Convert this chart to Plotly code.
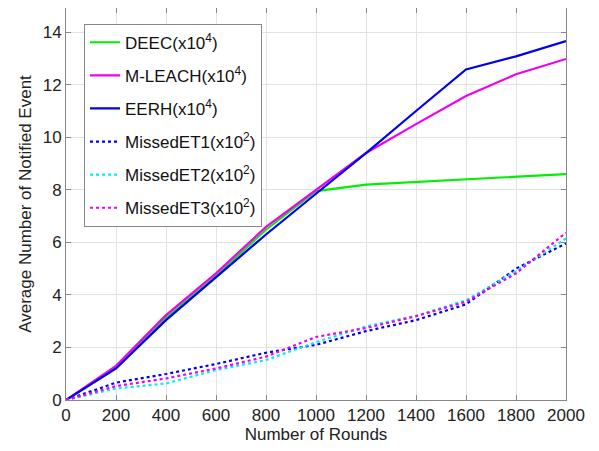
import plotly.graph_objects as go

rounds = [0, 200, 400, 600, 800, 1000, 1200, 1400, 1600, 1800, 2000]
deec = [0, 1.2, 3.13, 4.72, 6.48, 7.95, 8.2, 8.3, 8.4, 8.5, 8.6]
mleach = [0, 1.3, 3.23, 4.82, 6.59, 8.0, 9.4, 10.5, 11.57, 12.4, 12.98]
eerh = [0, 1.2, 3.04, 4.66, 6.3, 7.85, 9.4, 11.0, 12.58, 13.08, 13.66]
met1 = [0, 0.66, 0.99, 1.37, 1.8, 2.1, 2.62, 3.04, 3.64, 5.0, 5.96]
met2 = [0, 0.44, 0.63, 1.14, 1.52, 2.2, 2.8, 3.2, 3.8, 4.9, 6.15]
met3 = [0, 0.53, 0.82, 1.2, 1.65, 2.4, 2.74, 3.19, 3.74, 4.82, 6.37]

names = ["DEEC(x10<sup>4</sup>)", "M-LEACH(x10<sup>4</sup>)", "EERH(x10<sup>4</sup>)",
         "MissedET1(x10<sup>2</sup>)", "MissedET2(x10<sup>2</sup>)", "MissedET3(x10<sup>2</sup>)"]
series = [deec, mleach, eerh, met1, met2, met3]
colors = ["#00f000", "#f000f0", "#0000f0", "#0000f0", "#00f0f0", "#f000f0"]
dashes = ["solid", "solid", "solid", "dot", "dot", "dot"]

fig = go.Figure()
for i, (n, s, c, d) in enumerate(zip(names, series, colors, dashes)):
    fig.add_trace(go.Scatter(x=rounds, y=s, mode="lines", name=n, legendgroup=f"g{i}",
                             line=dict(color=c, width=2.2, dash=d)))

axis_common = dict(showgrid=True, gridcolor="#e3e3e3", gridwidth=1,
                   showline=True, linecolor="#888888", linewidth=1, mirror="ticks",
                   ticks="inside", ticklen=5, tickcolor="#888888",
                   zeroline=False, tickfont=dict(size=17, color="#222222"))

fig.update_layout(
    width=599, height=451,
    margin=dict(l=58, r=41, t=0, b=59),
    paper_bgcolor="white", plot_bgcolor="white",
    font=dict(family="Liberation Sans, Arial, sans-serif", color="#222222"),
    xaxis=dict(range=[0, 2000], tickvals=list(range(0, 2001, 200)),
               title=dict(text="Number of Rounds", font=dict(size=17), standoff=0),
               **axis_common),
    yaxis=dict(range=[0, 14.92], tickvals=list(range(0, 15, 2)),
               title=dict(text="Average Number of Notified Event", font=dict(size=17), standoff=6),
               **axis_common),
    legend=dict(x=0.036, y=0.96, xanchor="left", yanchor="top",
                bgcolor="white", bordercolor="#888888", borderwidth=1,
                font=dict(size=17, color="#111111"), itemwidth=30,
                tracegroupgap=8),
    showlegend=True,
)

fig.write_html("out.html")
